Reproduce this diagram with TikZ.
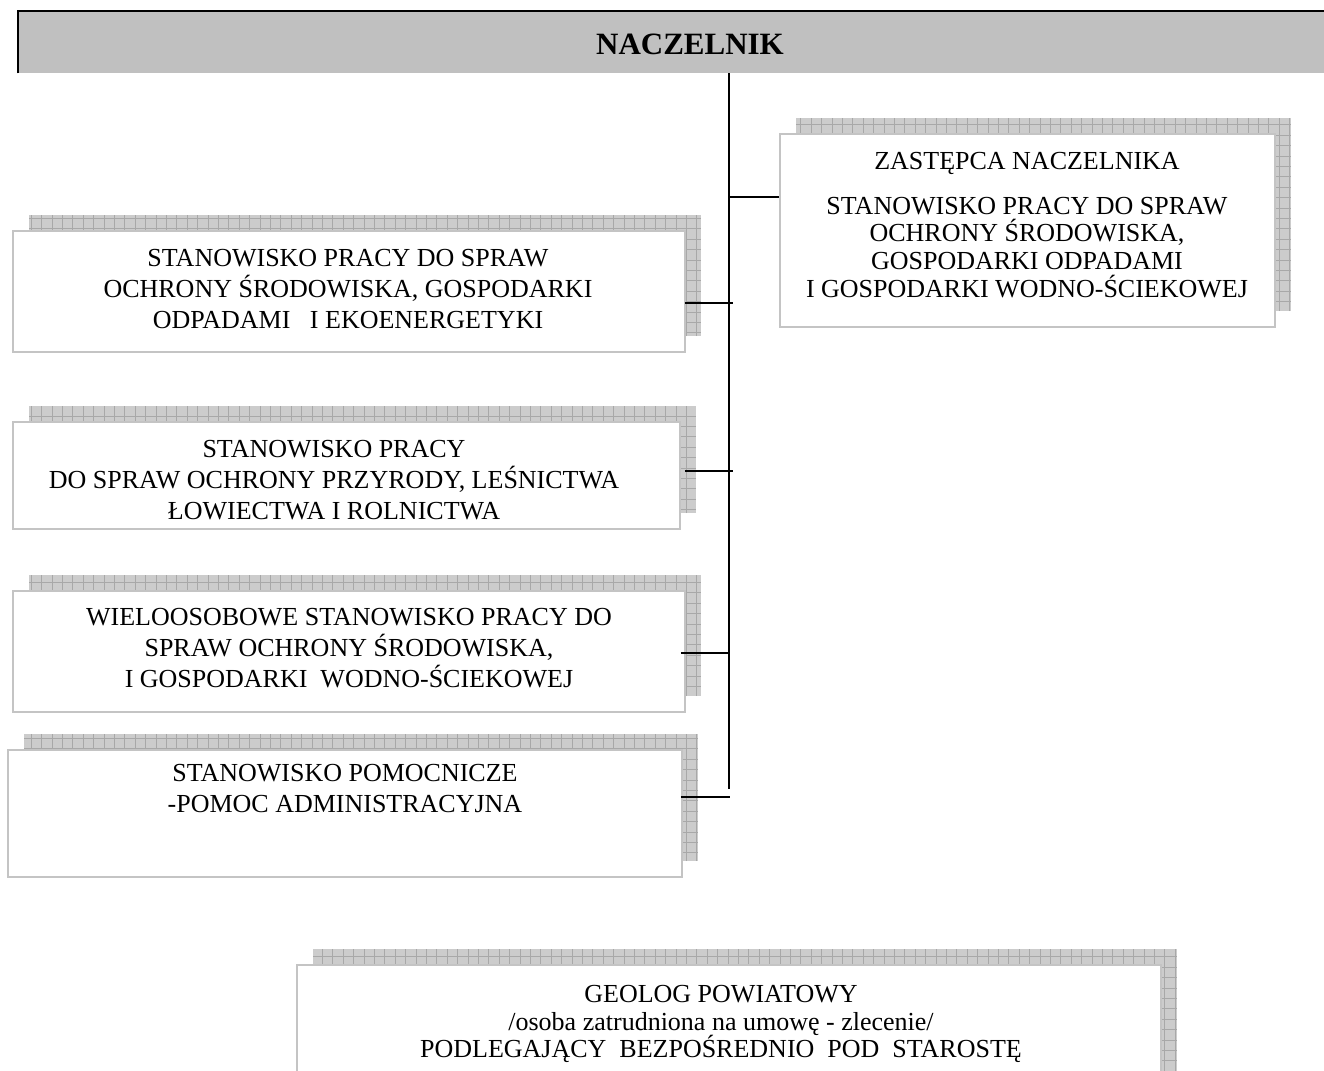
\documentclass[tikz,border=0pt]{standalone}
\usepackage{fontspec}
\setmainfont{Liberation Serif}
\usetikzlibrary{fit,calc}
\definecolor{hdrfill}{HTML}{C0C0C0}
\definecolor{boxline}{HTML}{C4C4C4}
\definecolor{shfill}{HTML}{CCCCCC}
\definecolor{shgrid}{HTML}{A8A8A8}
\tikzset{
  orgbox/.style={draw=boxline, line width=0.8pt, fill=white, inner sep=0pt},
  conn/.style={line width=0.7pt, black},
  txt/.style={align=center, font=\fontsize{13}{15.5}\selectfont, inner sep=0pt},
  txttight/.style={align=center, font=\fontsize{13}{13.8}\selectfont, inner sep=0pt},
}
\newcommand\shadowbox[3]{%
  \coordinate (#1nw) at #2;
  \coordinate (#1se) at #3;
  \begin{scope}
    \clip ($(#1nw)+(16,-16)$) rectangle ($(#1se)+(16,-16)$);
    \fill[shfill] ($(#1nw)+(16,-16)$) rectangle ($(#1se)+(16,-16)$);
    \draw[shgrid, line width=0.45pt, step=5.2pt] ($(#1nw)+(16,-16)$) grid ($(#1se)+(16,-16)$);
  \end{scope}
  \node[orgbox, fit=(#1nw)(#1se)] (#1) {};
}
\begin{document}
\begin{tikzpicture}[x=0.5pt, y=-0.5pt]
\useasboundingbox (0,0) rectangle (1324,1071);
\clip (0,0) rectangle (1324,1071);

% header
\coordinate (hnw) at (18,11);
\coordinate (hse) at (1330,73);
\node[fit=(hnw)(hse), inner sep=0pt, fill=hdrfill] (hdr) {};
\draw[line width=0.9pt] (hdr.south west) -- (hdr.north west) -- (hdr.north east);
\node[font=\fontsize{15.5}{18}\selectfont\bfseries, inner sep=0pt] (hdrtxt) at (690,44) {NACZELNIK};

% boxes
\shadowbox{zast}{(780,134)}{(1275,327)}
\shadowbox{b1}{(13,231)}{(685,352)}
\shadowbox{b2}{(13,422)}{(680,529)}
\shadowbox{b3}{(13,591)}{(685,712)}
\shadowbox{b4}{(8,750)}{(682,877)}
\shadowbox{geo}{(297,965)}{(1161,1100)}

% texts
\node[txttight] (tzast) at (1027,225) {ZASTĘPCA NACZELNIKA\\[8.5pt]
  STANOWISKO PRACY DO SPRAW\\OCHRONY ŚRODOWISKA,\\GOSPODARKI ODPADAMI\\I GOSPODARKI WODNO-ŚCIEKOWEJ};
\node[txt] (t1) at (348,289) {STANOWISKO PRACY DO SPRAW\\OCHRONY ŚRODOWISKA, GOSPODARKI\\ODPADAMI \ \ I EKOENERGETYKI};
\node[txt] (t2) at (334,480) {STANOWISKO PRACY\\DO SPRAW OCHRONY PRZYRODY, LEŚNICTWA\\ŁOWIECTWA I ROLNICTWA};
\node[txt] (t3) at (349,648) {WIELOOSOBOWE STANOWISKO PRACY DO\\SPRAW OCHRONY ŚRODOWISKA,\\I GOSPODARKI \ WODNO-ŚCIEKOWEJ};
\node[txt] (t4) at (345,789) {STANOWISKO POMOCNICZE\\-POMOC ADMINISTRACYJNA};
\node[txttight] (tgeo) at (721,1024) {GEOLOG POWIATOWY\\/osoba zatrudniona na umowę - zlecenie/\\PODLEGAJĄCY \ BEZPOŚREDNIO \ POD \ STAROSTĘ};

% trunk
\coordinate (vtop) at (hdr.south -| 729,0);
\coordinate (vbot) at (729,789);
\draw[conn] (vtop) -- (vbot);

% connectors
\coordinate (cz) at (729,197);
\coordinate (c1) at (733,303);
\coordinate (c2) at (733,471);
\coordinate (c3) at (729,653);
\coordinate (c4) at (730,797);
\draw[conn] (cz) -- (zast.west |- cz);
\draw[conn] ($(b1.east |- c1)+(-1,0)$) -- (c1);
\draw[conn] ($(b2.east |- c2)+(4,0)$) -- (c2);
\draw[conn] ($(b3.east |- c3)+(-5,0)$) -- (c3);
\draw[conn] ($(b4.east |- c4)+(-2,0)$) -- (c4);
\end{tikzpicture}
\end{document}
